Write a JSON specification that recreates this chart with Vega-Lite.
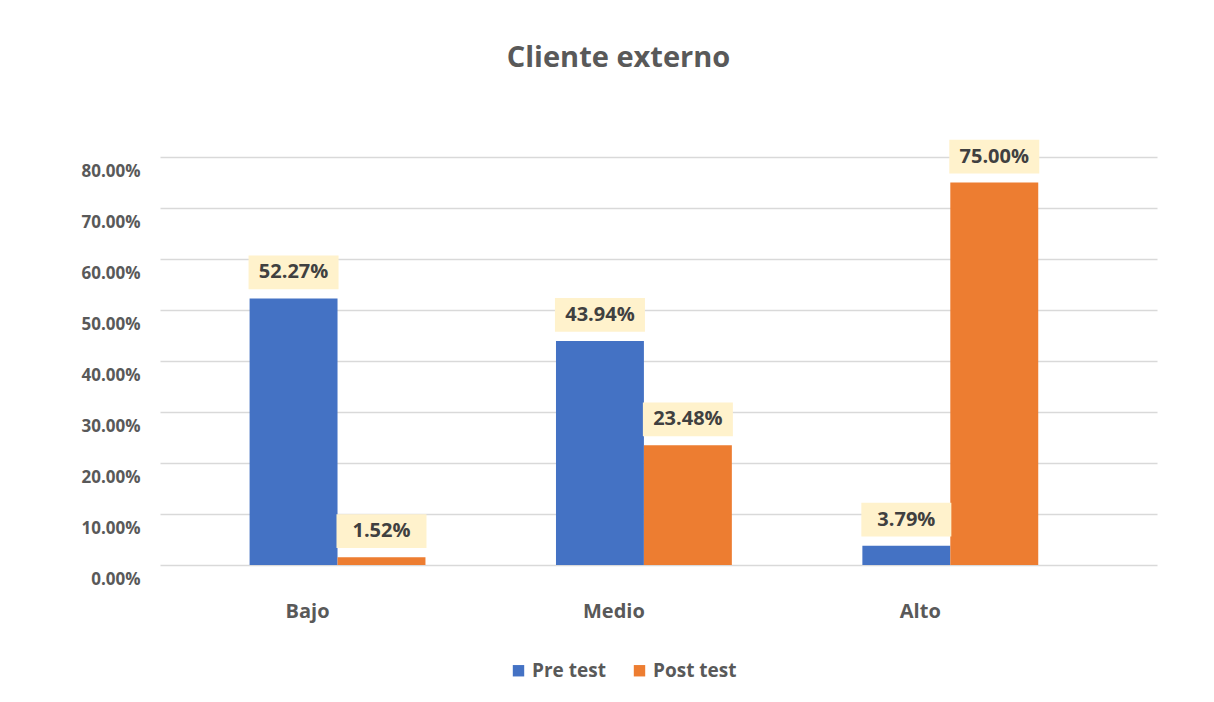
{
  "$schema": "https://vega.github.io/schema/vega-lite/v6.json",
  "width": 997,
  "height": 408,
  "autosize": {"type": "none"},
  "padding": {"left": 160, "top": 157, "right": 57, "bottom": 137},
  "background": "white",
  "config": {"font": "Open Sans", "view": {"stroke": null}},
  "title": {"text": "Cliente externo", "fontSize": 29, "font": "Open Sans", "fontWeight": "bold", "color": "#595959", "anchor": "middle", "frame": "group", "dx": -40, "offset": 67},
  "data": {"values": [
    {"nivel": "Bajo", "grupo": "Pre test", "valor": 0.5227},
    {"nivel": "Bajo", "grupo": "Post test", "valor": 0.0152},
    {"nivel": "Medio", "grupo": "Pre test", "valor": 0.4394},
    {"nivel": "Medio", "grupo": "Post test", "valor": 0.2348},
    {"nivel": "Alto", "grupo": "Pre test", "valor": 0.0379},
    {"nivel": "Alto", "grupo": "Post test", "valor": 0.75}
  ]},
  "encoding": {
    "x": {"field": "nivel", "type": "nominal", "sort": ["Bajo", "Medio", "Alto"],
      "scale": {"paddingInner": 0.426, "paddingOuter": 0.34, "align": 0.43},
      "axis": {"title": null, "ticks": false, "domain": false, "labelAngle": 0, "labelOffset": -30, "labelPadding": 36, "labelFontSize": 20, "labelFontWeight": "bold", "labelColor": "#595959"}},
    "xOffset": {"field": "grupo", "type": "nominal", "sort": ["Pre test", "Post test"], "scale": {"paddingInner": 0, "paddingOuter": 0}},
    "y": {"field": "valor", "type": "quantitative", "scale": {"domain": [0, 0.8]},
      "axis": {"title": null, "values": [0, 0.1, 0.2, 0.3, 0.4, 0.5, 0.6, 0.7, 0.8], "format": ".2%", "ticks": false, "domain": false, "grid": true, "gridColor": "#d9d9d9", "gridWidth": 1.3, "labelOffset": 14, "labelPadding": 20, "labelFontSize": 17, "labelFontWeight": "bold", "labelColor": "#595959"}}
  },
  "layer": [
    {"mark": {"type": "bar"},
     "encoding": {"color": {"field": "grupo", "type": "nominal", "scale": {"domain": ["Pre test", "Post test"], "range": ["#4472c4", "#ed7d31"]},
       "legend": {"title": null, "orient": "none", "legendX": 349, "legendY": 504, "direction": "horizontal", "symbolType": "square", "symbolSize": 130, "symbolStrokeWidth": 0, "labelFontSize": 19, "labelFontWeight": "bold", "labelColor": "#595959", "columnPadding": 24}}}},
    {"mark": {"type": "point", "shape": "M-1.2,-0.45H1.2V0.45H-1.2Z", "filled": true, "color": "#fff2cc", "opacity": 1, "yOffset": -26, "size": 5625}},
    {"mark": {"type": "text", "dy": -26, "fontSize": 20, "fontWeight": "bold", "color": "#404040", "baseline": "middle"},
     "encoding": {"text": {"field": "valor", "type": "quantitative", "format": ".2%"}}}
  ]
}
